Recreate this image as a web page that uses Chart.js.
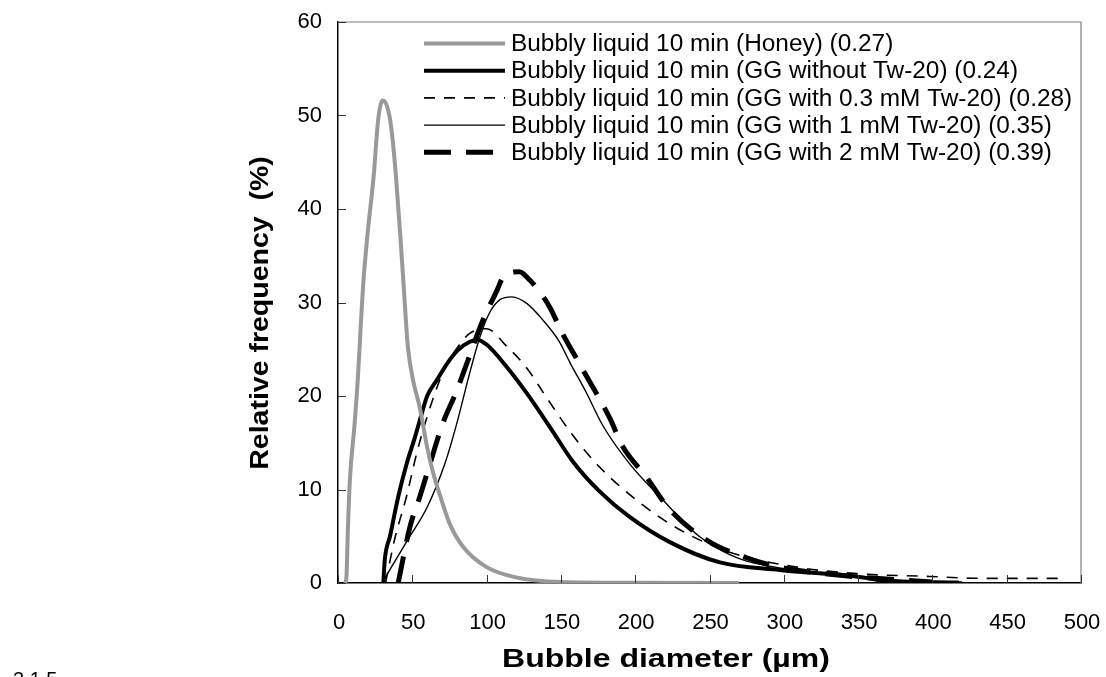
<!DOCTYPE html>
<html>
<head>
<meta charset="utf-8">
<script src="https://cdn.jsdelivr.net/npm/chart.js@4"></script>
<style>
  body { margin: 0; background: #fff; overflow: hidden; }
  #wrap { position: relative; width: 1106px; height: 677px; }
  #caption { position: absolute; left: 13px; top: 668px; font: 20px "Liberation Sans", Arial, sans-serif; color: #000; }
</style>
</head>
<body>
<div id="wrap">
  <canvas id="chart" width="1106" height="677"></canvas>
  <div id="caption">3.1.5</div>
</div>
<script>
// bubble diameter (µm) and relative frequency (%) per sample
const honeyD = [5, 5.8, 6.5, 8, 11, 13, 17, 20, 24, 27, 30, 33, 36, 39, 42, 44.5, 47, 50.5, 55, 60, 64, 69, 75, 84, 100, 120, 150, 200, 270]
const honeyF = [0, 1, 5, 11, 16.7, 21, 32, 37.5, 43.5, 49.5, 51.6, 51, 48.5, 43.5, 37, 31, 25.3, 21.7, 18.8, 14.5, 11.8, 9.2, 6.4, 3.9, 1.7, 0.6, 0.1, 0.02, 0]

const gg0D = [30.5, 31.5, 35, 40.5, 46.3, 51.8, 56.5, 60, 66.5, 74, 80.7, 88.7, 94, 100, 113.6, 127, 142.5, 158, 176, 196, 223, 257, 297, 349, 376, 418]
const gg0F = [0, 2.5, 5, 9.2, 12.8, 15.6, 18.2, 20, 21.7, 23.6, 24.9, 25.8, 26, 25.5, 23.1, 20.3, 16.7, 13.0, 9.8, 7.1, 4.4, 2.2, 1.4, 0.7, 0.1, 0.05]

const gg03D = [32, 38, 46, 53, 60, 70.6, 80, 88.7, 100, 113.6, 127, 140.5, 158, 176, 203, 230, 263.5, 308.6, 349, 398, 432, 489]
const gg03F = [0, 4.6, 9.2, 13.9, 17.8, 22.5, 25.1, 26.7, 27.2, 25.3, 23, 19.8, 15.8, 12.4, 8.6, 5.7, 3.3, 1.7, 1.0, 0.7, 0.5, 0.5]

const gg1D = [29.6, 48, 60, 72, 80, 88.7, 95.5, 102, 109, 117, 127, 138, 149, 156, 167, 178, 196, 218.5, 243, 270, 306, 342, 380, 420]
const gg1F = [0, 4.9, 8.1, 12.8, 17.1, 22.5, 26.3, 28.9, 30.3, 30.6, 29.9, 28.1, 25.8, 23.6, 20.4, 16.9, 12.8, 8.9, 5.0, 2.6, 1.4, 0.7, 0.3, 0.1]

const gg2D = [40.5, 48.4, 55, 62, 70.6, 80, 86.7, 97.5, 107, 111, 116, 122, 129, 134, 142.5, 151, 163, 183, 191.6, 207.7, 223, 248, 275, 297, 340, 400]
const gg2F = [0, 6, 9.2, 12.8, 17.1, 20.6, 23.5, 28.1, 31.3, 32.7, 33.2, 33.3, 32.4, 31.5, 29.5, 26.7, 23.3, 17.6, 14.6, 11.3, 7.9, 4.6, 2.7, 1.7, 0.8, 0.1]

const seriesLabels = [
  'Bubbly liquid 10 min (Honey) (0.27)',
  'Bubbly liquid 10 min (GG without Tw-20) (0.24)',
  'Bubbly liquid 10 min (GG with 0.3 mM Tw-20) (0.28)',
  'Bubbly liquid 10 min (GG with 1 mM Tw-20) (0.35)',
  'Bubbly liquid 10 min (GG with 2 mM Tw-20) (0.39)'
]

const xTicks = [0, 50, 100, 150, 200, 250, 300, 350, 400, 450, 500]
const yTicks = [0, 10, 20, 30, 40, 50, 60]
const xTitle = 'Bubble diameter (µm)'
const yTitle = 'Relative frequency  (%)'

const FONT = '"Liberation Sans", Arial, sans-serif'

function toPoints(d, f) {
  return d.map((x, i) => ({ x: x, y: f[i] }))
}

function lineSet(label, d, f, color, width, dash) {
  return {
    label: label,
    data: toPoints(d, f),
    borderColor: color,
    borderWidth: width,
    borderDash: dash,
    pointRadius: 0,
    fill: false,
    cubicInterpolationMode: 'monotone',
    tension: 0.4
  }
}

// legend drawn inside the plot, top
const insideLegend = {
  id: 'insideLegend',
  afterDraw(chart) {
    const ctx = chart.ctx
    const area = chart.chartArea
    ctx.save()
    ctx.font = '24.4px ' + FONT
    ctx.textBaseline = 'middle'
    ctx.textAlign = 'left'
    chart.data.datasets.forEach((ds, i) => {
      const y = area.top + 21.5 + i * 27.2
      ctx.strokeStyle = ds.borderColor
      ctx.lineWidth = ds.borderWidth
      ctx.setLineDash(ds.borderDash || [])
      ctx.beginPath()
      ctx.moveTo(area.left + 86, y)
      ctx.lineTo(area.left + 167, y)
      ctx.stroke()
      ctx.setLineDash([])
      ctx.fillStyle = '#000'
      ctx.fillText(ds.label, area.left + 173, y + 1)
    })
    ctx.restore()
  }
}

// axis titles, stretched sideways like the source picture
const axisTitles = {
  id: 'axisTitles',
  afterDraw(chart) {
    const ctx = chart.ctx
    const area = chart.chartArea
    ctx.save()
    ctx.fillStyle = '#000'
    ctx.font = 'bold 25px ' + FONT
    ctx.textAlign = 'center'
    ctx.textBaseline = 'middle'
    ctx.save()
    ctx.translate(area.left + 328, area.bottom + 77)
    ctx.scale(1.28, 1)
    ctx.fillText(xTitle, 0, 0)
    ctx.restore()
    ctx.translate(area.left - 77, area.top + 291)
    ctx.rotate(-Math.PI / 2)
    ctx.scale(1.14, 1)
    ctx.fillText(yTitle, 0, 0)
    ctx.restore()
  }
}

// gray top/right frame and inward tick marks
const frame = {
  id: 'frame',
  afterDraw(chart) {
    const ctx = chart.ctx
    const { left, right, top, bottom } = chart.chartArea
    const xs = chart.scales.x
    const ys = chart.scales.y
    ctx.save()
    ctx.strokeStyle = '#808080'
    ctx.lineWidth = 1.2
    ctx.beginPath()
    ctx.moveTo(left, top)
    ctx.lineTo(right, top)
    ctx.lineTo(right, bottom)
    ctx.stroke()
    ctx.strokeStyle = '#333'
    ctx.lineWidth = 1
    xTicks.forEach(v => {
      const px = Math.round(xs.getPixelForValue(v)) + 0.5
      ctx.beginPath()
      ctx.moveTo(px, bottom)
      ctx.lineTo(px, bottom - 8)
      ctx.stroke()
    })
    yTicks.forEach(v => {
      const py = Math.round(ys.getPixelForValue(v)) + 0.5
      ctx.beginPath()
      ctx.moveTo(left, py)
      ctx.lineTo(left + 8, py)
      ctx.stroke()
    })
    ctx.restore()
  }
}

function start() {
  const ctx = document.getElementById('chart').getContext('2d')
  new Chart(ctx, {
    type: 'line',
    data: {
      datasets: [
        lineSet(seriesLabels[0], honeyD, honeyF, '#999999', 4, []),
        lineSet(seriesLabels[1], gg0D, gg0F, '#000000', 4, []),
        lineSet(seriesLabels[2], gg03D, gg03F, '#000000', 1.6, [11, 9]),
        lineSet(seriesLabels[3], gg1D, gg1F, '#000000', 1.4, []),
        lineSet(seriesLabels[4], gg2D, gg2F, '#000000', 5, [27, 15])
      ]
    },
    options: {
      responsive: false,
      animation: false,
      layout: { padding: { left: 0, top: 22, right: 25, bottom: 0 } },
      plugins: {
        legend: { display: false },
        tooltip: { enabled: false }
      },
      scales: {
        x: {
          type: 'linear',
          min: 0,
          max: 500,
          afterBuildTicks: s => { s.ticks = xTicks.map(v => ({ value: v })) },
          ticks: { color: '#000', font: { family: FONT, size: 22 }, padding: 27, maxRotation: 0, labelOffset: 1 },
          grid: { display: false, drawTicks: false },
          border: { display: true, color: '#000', width: 1.5 },
          afterFit: s => {
            s.height = 94
            s.paddingLeft = 0
            s.paddingRight = 0
          }
        },
        y: {
          min: 0,
          max: 60,
          afterBuildTicks: s => { s.ticks = yTicks.map(v => ({ value: v })) },
          ticks: { color: '#000', font: { family: FONT, size: 22 }, padding: 16 },
          grid: { display: false, drawTicks: false },
          border: { display: true, color: '#000', width: 1.5 },
          afterFit: s => {
            s.width = 338
            s.paddingTop = 0
            s.paddingBottom = 0
          }
        }
      }
    },
    plugins: [insideLegend, frame, axisTitles]
  })
}

document.addEventListener('DOMContentLoaded', start)
</script>
</body>
</html>
